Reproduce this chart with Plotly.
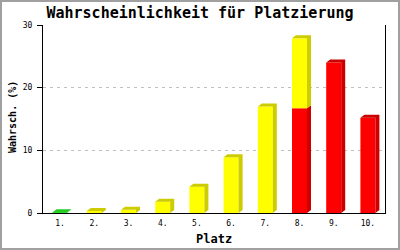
import plotly.graph_objects as go

categories = ["1.", "2.", "3.", "4.", "5.", "6.", "7.", "8.", "9.", "10."]
green_vals = [0.1, None, None, None, None, None, None, None, None, None]
yellow_vals = [None, 0.3, 0.5, 1.8, 4.2, 8.9, 17.0, 11.2, None, None]
red_vals = [None, None, None, None, None, None, None, 16.7, 24.0, 15.2]
y_ticks = [0, 10, 20, 30]

title_text = "Wahrscheinlichkeit für Platzierung"
x_title = "Platz"
y_title = "Wahrsch. (%)"

# layout geometry
W, H = 400, 250
ML, MR, MT, MB = 43, 15, 25, 37
plot_w = W - ML - MR
plot_h = H - MT - MB
y_max = 30
cat_px = plot_w / len(categories)
bar_w = 15 / cat_px
dx = 4 / cat_px          # 3D depth to the right (category units)
dy = 3 * y_max / plot_h  # 3D depth upwards (data units)

xpos = list(range(len(categories)))

red_base = [0 if v is not None else None for v in red_vals]
yellow_base = [(r if r is not None else 0) if v is not None else None
               for v, r in zip(yellow_vals, red_vals)]
green_base = [0 if v is not None else None for v in green_vals]

series = [
    (red_vals, red_base, "#ff0000", "#cc0000"),
    (yellow_vals, yellow_base, "#ffff00", "#cccc00"),
    (green_vals, green_base, "#33dd33", "#22cc22"),
]

def stack_top(i):
    tops = []
    for vals, base, _, _ in series:
        if vals[i] is not None:
            tops.append(base[i] + vals[i])
    return max(tops) if tops else None

fig = go.Figure()

# front faces as bars
for vals, base, front, dark in series:
    fig.add_trace(go.Bar(
        x=xpos, y=vals, base=base, width=bar_w,
        marker=dict(color=front, line=dict(width=0)),
        showlegend=False,
    ))

# depth faces (side + top) as filled polygons derived from the same data
for vals, base, front, dark in series:
    px, py = [], []
    for i, (v, b) in enumerate(zip(vals, base)):
        if v is None:
            continue
        t = b + v
        xr = i + bar_w / 2
        xl = i - bar_w / 2
        px += [xr, xr + dx, xr + dx, xr, xr, None]
        py += [b, b + dy, t + dy, t, b, None]
        if abs(t - stack_top(i)) < 1e-9:
            px += [xl, xl + dx, xr + dx, xr, xl, None]
            py += [t, t + dy, t + dy, t, t, None]
    fig.add_trace(go.Scatter(
        x=px, y=py, mode="lines", fill="toself", fillcolor=dark,
        line=dict(width=0, color=dark), showlegend=False, hoverinfo="skip",
    ))

mono = "DejaVu Sans Mono"
fig.update_layout(
    width=W, height=H,
    margin=dict(l=ML, r=MR, t=MT, b=MB, pad=0),
    barmode="overlay",
    paper_bgcolor="white", plot_bgcolor="white",
    title=dict(text=title_text, x=0.5, xanchor="center", y=1 - 13 / H,
               yanchor="middle", yref="container",
               font=dict(family=mono, size=15, color="black", weight="bold")),
    xaxis=dict(range=[-0.5, len(categories) - 0.5],
               tickvals=xpos, ticktext=categories,
               showline=True, linecolor="black", linewidth=1,
               showgrid=False, zeroline=False,
               ticks="outside", ticklen=2, tickcolor="rgba(0,0,0,0)",
               tickfont=dict(family=mono, size=8, color="black")),
    yaxis=dict(range=[0, y_max], tickvals=y_ticks,
               showline=True, linecolor="black", linewidth=1, mirror=True,
               ticks="outside", ticklen=5, tickcolor="black",
               ticklabelstandoff=3,
               showgrid=True, gridcolor="#c0c0c0", griddash="3px,4px", gridwidth=1,
               zeroline=False,
               tickfont=dict(family=mono, size=8, color="black")),
    annotations=[
        dict(text=x_title, xref="paper", yref="paper", x=0.5, y=-26 / plot_h,
             xanchor="center", yanchor="middle", showarrow=False,
             font=dict(family=mono, size=12, color="black", weight="bold")),
        dict(text=y_title, xref="paper", yref="paper", x=-31 / plot_w, y=96 / plot_h,
             xanchor="center", yanchor="middle", showarrow=False, textangle=-90,
             font=dict(family=mono, size=10, color="black", weight="bold")),
    ],
    shapes=[
        dict(type="rect", xref="paper", yref="paper",
             x0=-(ML - 1) / plot_w, x1=1 + (MR - 1) / plot_w,
             y0=-(MB - 1) / plot_h, y1=1 + (MT - 1) / plot_h,
             line=dict(color="#a0a0a0", width=2), layer="below"),
    ],
)

fig.write_html("out.html")
